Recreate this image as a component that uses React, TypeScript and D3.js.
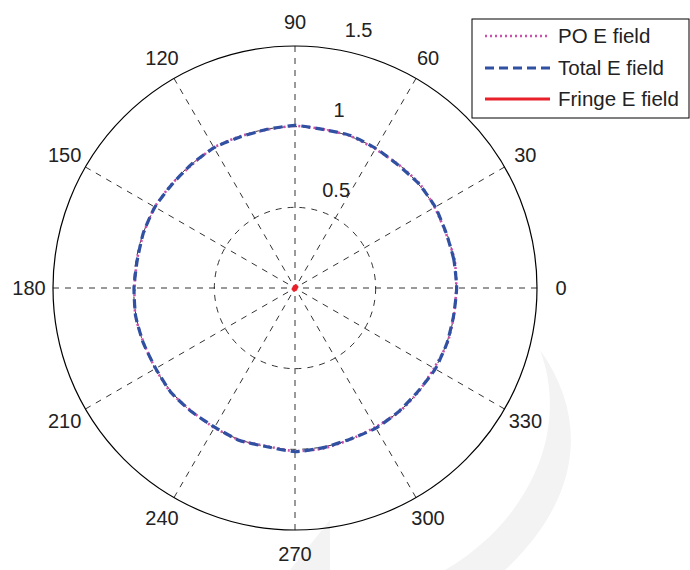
import React from "react";
import * as d3 from "d3";

const angleDeg: number[] = [0,10,20,30,40,50,60,70,80,90,100,110,120,130,140,150,160,170,180,190,200,210,220,230,240,250,260,270,280,290,300,310,320,330,340,350,360];
const poField: number[] = [1.0,1.005,0.995,1.0,1.008,0.998,0.995,1.003,1.0,1.005,0.997,1.0,1.006,0.996,1.0,1.004,0.998,0.995,0.995,1.005,0.998,1.0,1.006,0.997,1.0,1.004,0.996,1.012,1.01,1.0,0.996,1.004,1.0,0.995,1.005,1.0,1.0];
const totalField: number[] = [1.002,1.0,0.997,1.004,1.003,0.995,1.0,1.006,0.998,1.008,0.999,0.996,1.004,1.0,0.997,1.003,1.0,0.993,0.998,1.003,1.0,0.997,1.005,1.0,0.996,1.006,0.999,1.015,1.005,0.997,1.003,1.0,0.996,1.004,1.002,0.998,1.002];
const fringeField: number[] = [0.006,0.008,0.012,0.014,0.01,0.008,0.012,0.016,0.012,0.008,0.006,0.008,0.01,0.008,0.006,0.007,0.008,0.006,0.006,0.008,0.012,0.014,0.01,0.008,0.012,0.016,0.012,0.008,0.006,0.008,0.01,0.008,0.006,0.007,0.008,0.006,0.006];
const ringTicks: number[] = [0.5, 1, 1.5];
const angleTicks: number[] = [0,30,60,90,120,150,180,210,240,270,300,330];
const legendLabels: string[] = ["PO E field", "Total E field", "Fringe E field"];

const W = 690, H = 570;
const cx = 295, cy = 288, R = 242;
const FONT = "'Liberation Sans', Arial, Helvetica, sans-serif";

export default function App() {
  const r = d3.scaleLinear().domain([0, 1.5]).range([0, R]);
  const toXY = (deg: number, v: number): [number, number] => {
    const a = (deg * Math.PI) / 180;
    return [cx + r(v) * Math.cos(a), cy - r(v) * Math.sin(a)];
  };
  const line = (vals: number[]) =>
    d3.line<number>().x((v, i) => toXY(angleDeg[i], v)[0]).y((v, i) => toXY(angleDeg[i], v)[1]).curve(d3.curveCardinalClosed.tension(0.5))(vals.slice(0, -1)) || "";

  const series = [
    { vals: poField, color: "#cc4fae", dash: "2,3", width: 2.6 },
    { vals: totalField, color: "#3050a2", dash: "9,5", width: 3.2 },
    { vals: fringeField, color: "#e8202a", dash: "", width: 3 },
  ];

  const legendX = 472, legendY = 19, legendW = 217, legendH = 99;
  const rowY = [36, 68, 99];

  return (
    <svg width={W} height={H} style={{ position: "absolute", left: 0, top: 0, background: "#fff" }} fontFamily={FONT}>
      <rect x={0} y={0} width={W} height={H} fill="#fff" />
      {/* faint watermark */}
      <path d="M 540 350 C 570 430 530 520 445 570 L 505 570 C 580 500 590 420 540 350 Z" fill="#f3f3f3" />
      <path d="M 330 520 L 290 570 L 330 570 Z" fill="#f3f3f3" />
      {/* spokes */}
      {angleTicks.map((a) => {
        const [x, y] = toXY(a, 1.5);
        return <line key={"s" + a} x1={x} y1={y} x2={cx} y2={cy} stroke="#000" strokeWidth={0.8} strokeDasharray="6,6" />;
      })}
      {/* rings */}
      {ringTicks.slice(0, -1).map((t) => (
        <circle key={"c" + t} cx={cx} cy={cy} r={r(t)} fill="none" stroke="#000" strokeWidth={0.8} strokeDasharray="6,6" />
      ))}
      <circle cx={cx} cy={cy} r={R} fill="none" stroke="#000" strokeWidth={1.2} />
      {/* ring labels */}
      {ringTicks.map((t) => {
        const [x, y] = toXY(82, t);
        return (
          <text key={"rl" + t} x={x + 16} y={y - 11} fontSize={20} fill="#222">{t}</text>
        );
      })}
      {/* angle labels */}
      {angleTicks.map((a) => {
        const rad = (a * Math.PI) / 180;
        const x = cx + 266 * Math.cos(rad);
        const y = cy - 266 * Math.sin(rad);
        return (
          <text key={"al" + a} x={x} y={y} fontSize={20} fill="#222" textAnchor="middle" dominantBaseline="central">{a}</text>
        );
      })}
      {/* data */}
      {series.map((s, i) => (
        <path key={"d" + i} d={line(s.vals)} fill="none" stroke={s.color} strokeWidth={s.width} strokeDasharray={s.dash || undefined} />
      ))}
      {/* legend */}
      <rect x={legendX} y={legendY} width={legendW} height={legendH} fill="#fff" stroke="#000" strokeWidth={1} />
      {legendLabels.map((lab, i) => (
        <g key={"lg" + i}>
          <line x1={485} x2={550} y1={rowY[i]} y2={rowY[i]} stroke={series[i].color} strokeWidth={series[i].width} strokeDasharray={series[i].dash || undefined} />
          <text x={558} y={rowY[i] + 7} fontSize={20.5} fill="#222">{lab}</text>
        </g>
      ))}
    </svg>
  );
}
